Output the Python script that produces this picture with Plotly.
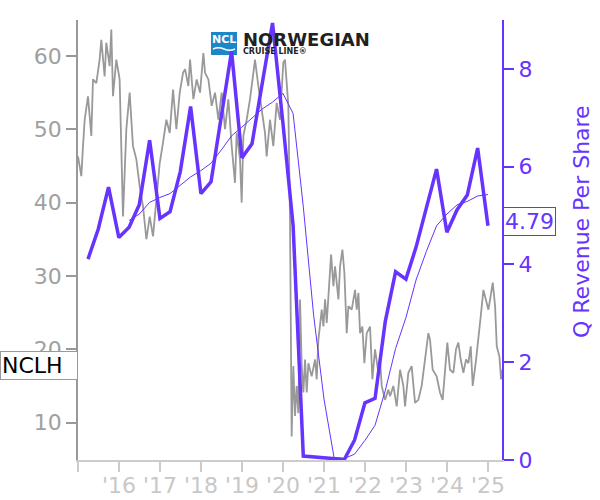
import pandas as pd
import plotly.graph_objects as go

# ---------------- data ----------------
ticker = "NCLH"
quarter_dates = [
    "2015-03-31", "2015-06-30", "2015-09-30", "2015-12-31",
    "2016-03-31", "2016-06-30", "2016-09-30", "2016-12-31",
    "2017-03-31", "2017-06-30", "2017-09-30", "2017-12-31",
    "2018-03-31", "2018-06-30", "2018-09-30", "2018-12-31",
    "2019-03-31", "2019-06-30", "2019-09-30", "2019-12-31",
    "2020-03-31", "2020-06-30", "2020-09-30", "2020-12-31",
    "2021-03-31", "2021-06-30", "2021-09-30", "2021-12-31",
    "2022-03-31", "2022-06-30", "2022-09-30", "2022-12-31",
    "2023-03-31", "2023-06-30", "2023-09-30", "2023-12-31",
    "2024-03-31", "2024-06-30", "2024-09-30", "2024-12-31",
]
revenue_per_share = [
    4.11, 4.72, 5.58, 4.55,
    4.76, 5.22, 6.54, 4.94,
    5.08, 5.90, 7.23, 5.45,
    5.69, 7.00, 8.36, 6.18,
    6.47, 7.70, 8.94, 6.90,
    4.80, 0.08, 0.06, 0.04,
    0.02, 0.01, 0.41, 1.17,
    1.26, 2.83, 3.85, 3.70,
    4.35, 5.15, 5.95, 4.66,
    5.12, 5.42, 6.38, 4.79,
]
# trailing four-quarter average (thin line)
avg_dates = quarter_dates[4:]
revenue_avg = [
    4.90, 5.03, 5.27, 5.37,
    5.45, 5.62, 5.79, 5.92,
    6.07, 6.34, 6.63, 6.81,
    7.00, 7.18, 7.32, 7.50,
    7.09, 5.18, 2.96, 1.25,
    0.05, 0.03, 0.12, 0.40,
    0.71, 1.42, 2.28, 2.91,
    3.68, 4.26, 4.79, 5.03,
    5.22, 5.29, 5.40, 5.43,
]

# share price (decimal year, price)
price_years = [
    2015.000, 2015.081, 2015.122, 2015.163, 2015.244, 2015.325, 2015.366, 2015.447,
    2015.528, 2015.569, 2015.650, 2015.691, 2015.772, 2015.813, 2015.854, 2015.935,
    2016.016, 2016.057, 2016.098, 2016.179, 2016.260, 2016.341, 2016.423, 2016.504,
    2016.585, 2016.667, 2016.748, 2016.829, 2016.911, 2016.992, 2017.073, 2017.154,
    2017.236, 2017.317, 2017.398, 2017.480, 2017.561,
    2017.610, 2017.691, 2017.732, 2017.813, 2017.894, 2017.976, 2018.057, 2018.098,
    2018.179, 2018.260, 2018.342, 2018.423, 2018.504, 2018.585, 2018.667, 2018.748,
    2018.829, 2018.870, 2018.951, 2018.992, 2019.033, 2019.114, 2019.195, 2019.277,
    2019.317, 2019.399, 2019.480, 2019.561, 2019.602, 2019.683, 2019.764, 2019.846,
    2019.927, 2020.008, 2020.049, 2020.090, 2020.130, 2020.171, 2020.190,
    2020.211, 2020.252, 2020.293, 2020.333, 2020.374, 2020.415, 2020.456, 2020.496,
    2020.537, 2020.578, 2020.618, 2020.699, 2020.781, 2020.821, 2020.862, 2020.943,
    2020.984, 2021.025, 2021.065, 2021.106, 2021.171, 2021.228, 2021.268, 2021.350,
    2021.390, 2021.447, 2021.496, 2021.553, 2021.594, 2021.675, 2021.756, 2021.797,
    2021.838, 2021.878, 2021.935, 2021.984, 2022.041, 2022.122, 2022.179, 2022.244,
    2022.325, 2022.366, 2022.407, 2022.488, 2022.569,
    2022.610, 2022.691, 2022.773, 2022.854, 2022.935, 2022.976, 2023.057, 2023.138,
    2023.220, 2023.301, 2023.382, 2023.464, 2023.545, 2023.586, 2023.651, 2023.748,
    2023.829, 2023.894, 2023.951, 2024.008, 2024.073, 2024.155, 2024.220, 2024.277,
    2024.334, 2024.399, 2024.464, 2024.521, 2024.578, 2024.626, 2024.708, 2024.765,
    2024.821, 2024.886, 2024.951, 2025.008, 2025.049, 2025.114, 2025.171, 2025.212,
    2025.277, 2025.317, 2025.334,
]
price_values = [
    46.3, 43.6, 47.7, 51.3, 54.5, 49.1, 56.8, 56.3,
    59.5, 62.2, 57.2, 61.8, 58.6, 63.6, 54.5, 59.5,
    56.8, 47.7, 38.1, 50.0, 55.0, 47.7, 45.9, 42.2,
    39.5, 35.0, 38.1, 35.4, 40.9, 45.4, 48.2, 51.3,
    49.5, 55.4, 50.0, 55.0, 57.7,
    58.2, 55.9, 59.5, 54.1, 56.8, 55.0, 60.4, 57.7,
    56.8, 53.2, 55.0, 51.3, 55.0, 50.0, 54.1, 47.7,
    42.7, 49.5, 45.9, 40.0, 49.1, 51.3, 54.1, 57.7,
    59.5, 55.9, 52.3, 49.5, 46.3, 51.3, 47.7, 53.6,
    51.3, 59.1, 59.5, 55.9, 53.2, 37.7, 24.0,
    8.1, 17.7, 10.9, 15.0, 11.3, 26.8, 17.7, 14.1,
    18.6, 14.1, 18.1, 16.3, 18.6, 15.9, 21.3, 25.4,
    23.1, 26.8, 23.6, 27.2, 32.9, 28.6, 31.3, 26.8,
    31.3, 33.6, 30.4, 22.2, 25.9, 25.4, 28.1, 25.4,
    27.7, 22.2, 23.1, 18.1, 22.2, 23.1, 15.9, 20.0,
    16.8, 18.6, 15.0, 13.1, 14.5,
    13.6, 15.0, 12.2, 17.2, 15.0, 12.2, 16.8, 17.7,
    12.7, 13.1, 15.0, 18.6, 22.2, 21.3, 17.2, 16.3,
    14.1, 13.1, 17.7, 20.9, 17.2, 16.8, 20.0, 20.9,
    18.6, 16.8, 18.6, 18.1, 20.4, 15.0, 18.6, 21.3,
    24.5, 28.1, 26.8, 25.4, 26.8, 29.1, 25.9, 20.4,
    19.0, 15.9, 17.2,
]

year_ticks = ["2015-01-01", "2016-01-01", "2017-01-01", "2018-01-01", "2019-01-01",
              "2020-01-01", "2021-01-01", "2022-01-01", "2023-01-01", "2024-01-01",
              "2025-01-01"]
year_labels = ["", "'16", "'17", "'18", "'19", "'20", "'21", "'22", "'23", "'24", "'25"]
price_ticks = [10, 20, 30, 40, 50, 60]
rev_ticks = [0, 2, 4, 6, 8]
right_title = "Q Revenue Per Share"


def decimal_year_to_date(y):
    yr = int(y)
    start = pd.Timestamp(year=yr, month=1, day=1)
    end = pd.Timestamp(year=yr + 1, month=1, day=1)
    return start + (end - start) * (y - yr)


price_dates = [decimal_year_to_date(y) for y in price_years]

# ---------------- style ----------------
PURPLE = "#6633ff"
GRAY = "#999999"
FONT = "DejaVu Sans"
W, H = 600, 500
ML, MR, MT, MB = 78, 98, 20, 40
PW, PH = W - ML - MR, H - MT - MB


def px_x(px):
    return (px - ML) / PW


def px_y(py):
    return (H - MB - py) / PH


fig = go.Figure()
fig.add_trace(go.Scatter(x=price_dates, y=price_values, mode="lines",
                         line=dict(color=GRAY, width=1.8), yaxis="y",
                         hoverinfo="skip", showlegend=False))
fig.add_trace(go.Scatter(x=avg_dates, y=revenue_avg, mode="lines",
                         line=dict(color=PURPLE, width=1), yaxis="y2",
                         showlegend=False))
fig.add_trace(go.Scatter(x=quarter_dates, y=revenue_per_share, mode="lines",
                         line=dict(color=PURPLE, width=3.5), yaxis="y2",
                         showlegend=False))

fig.update_layout(
    width=W, height=H,
    margin=dict(l=ML, r=MR, t=MT, b=MB, pad=0, autoexpand=False),
    paper_bgcolor="white", plot_bgcolor="white",
    font=dict(family=FONT, size=22),
    showlegend=False,
    xaxis=dict(
        type="date", range=["2015-01-01", "2025-05-05"], automargin=False,
        tickvals=year_ticks, ticktext=year_labels,
        showgrid=False, zeroline=False,
        showline=True, linecolor="#cccccc", linewidth=1.5,
        ticks="outside", ticklen=10, tickwidth=1.5, tickcolor="#cccccc",
        ticklabelstandoff=-5,
        tickfont=dict(color="#c8c8c8", size=22, family=FONT),
    ),
    yaxis=dict(
        range=[4.9, 64.9], tickvals=price_ticks, automargin=False,
        showgrid=False, zeroline=False,
        showline=True, linecolor=GRAY, linewidth=1.5,
        ticks="outside", ticklen=10, tickwidth=1.5, tickcolor=GRAY,
        tickfont=dict(color="#a0a0a0", size=22, family=FONT),
    ),
    yaxis2=dict(
        range=[0, 9.0], tickvals=rev_ticks, overlaying="y", side="right",
        automargin=False,
        showgrid=False, zeroline=False,
        showline=True, linecolor=PURPLE, linewidth=2,
        ticks="outside", ticklen=10, tickwidth=1.5, tickcolor=PURPLE,
        tickfont=dict(color=PURPLE, size=22, family=FONT),
    ),
)

annotations = [
    dict(text=ticker, xref="paper", x=0, xanchor="right", yref="y",
         y=price_values[-1], yshift=4, yanchor="middle", showarrow=False,
         font=dict(color="black", size=22, family=FONT), bgcolor="white",
         bordercolor=GRAY, borderwidth=1, borderpad=1, width=74, align="left"),
    dict(text=f"{revenue_per_share[-1]:.2f}", xref="paper", x=px_x(503),
         xanchor="left", yref="y2", y=revenue_per_share[-1], yshift=4,
         yanchor="middle", showarrow=False,
         font=dict(color=PURPLE, size=22, family=FONT), bgcolor="white",
         bordercolor=PURPLE, borderwidth=1, borderpad=1),
    dict(text=right_title, xref="paper", yref="paper", x=px_x(581), y=px_y(222),
         xanchor="center", yanchor="middle", textangle=-90, showarrow=False,
         font=dict(color=PURPLE, size=22, family=FONT)),
    # logo text
    dict(text="<b>NCL</b>", xref="paper", yref="paper", x=px_x(224), y=px_y(40),
         xanchor="center", yanchor="middle", showarrow=False,
         font=dict(color="white", size=11, family=FONT)),
    dict(text="<b>NORWEGIAN</b>", xref="paper", yref="paper", x=px_x(241), y=px_y(39.5),
         xanchor="left", yanchor="middle", showarrow=False,
         font=dict(color="#231f20", size=18, family=FONT)),
    dict(text="<b>CRUISE LINE®</b>", xref="paper", yref="paper", x=px_x(241), y=px_y(51.5),
         xanchor="left", yanchor="middle", showarrow=False,
         font=dict(color="#231f20", size=8, family=FONT)),
]
fig.update_layout(annotations=annotations)


def wave_path():
    pts = [(213, 49), (218.5, 46.5), (224, 49), (229.5, 51.5), (235, 49)]
    (x0, y0), (cx1, cy1), (x1, y1), (cx2, cy2), (x2, y2) = pts
    return (f"M {px_x(x0)},{px_y(y0)} Q {px_x(cx1)},{px_y(cy1)} {px_x(x1)},{px_y(y1)} "
            f"Q {px_x(cx2)},{px_y(cy2)} {px_x(x2)},{px_y(y2)}")


fig.update_layout(shapes=[
    dict(type="rect", xref="paper", yref="paper",
         x0=px_x(211), x1=px_x(237), y0=px_y(55), y1=px_y(32),
         fillcolor="#1b87c9", line=dict(width=0), layer="below"),
    dict(type="path", xref="paper", yref="paper", path=wave_path(),
         line=dict(color="white", width=1.5), layer="below"),
])

fig.write_html("out.html", config={"displayModeBar": False},
               post_script="document.body.style.margin='0';document.body.style.overflow='hidden';")
